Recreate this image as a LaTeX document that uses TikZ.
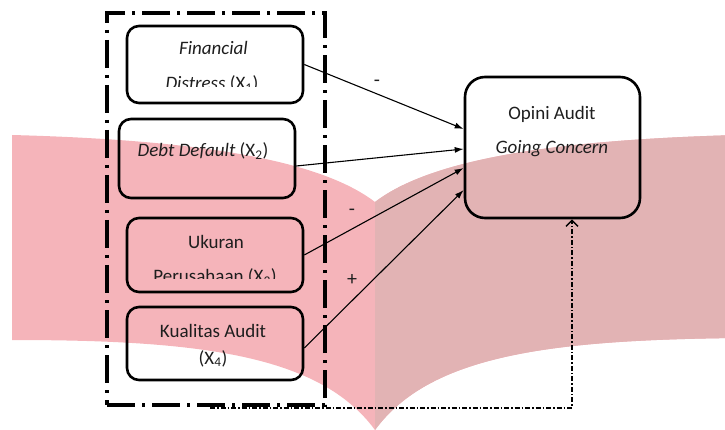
\documentclass[tikz,border=0pt]{standalone}
\usepackage{fontspec}
\setmainfont{Carlito}
\usetikzlibrary{arrows.meta}
\definecolor{wmL}{RGB}{245,180,186}
\definecolor{wmR}{RGB}{226,179,180}
\definecolor{ink}{RGB}{30,30,30}
\newcommand{\wmshape}{(12,135) .. controls (200,140) and (320,160) .. (375,202) .. controls (430,160) and (550,140) .. (738,135) -- (738,338) .. controls (550,340) and (430,355) .. (375,430) .. controls (320,355) and (200,340) .. (12,340) -- cycle}
\begin{document}
\begin{tikzpicture}[x=1pt,y=-1pt,
  box/.style={draw=black, line width=2.6pt, rounded corners=12pt, inner sep=0pt},
  framebox/.style={draw=black, line width=3.2pt, dash pattern=on 28pt off 7pt on 3pt off 7pt, inner sep=0pt},
  arr/.style={line width=1.1pt, -{Latex[length=9pt,width=6pt]}},
  fb/.style={draw=black, line width=1.8pt, dash pattern=on 5pt off 2pt on 1.5pt off 2pt, -{Straight Barb[length=6pt,width=12pt,line width=1.4pt]}},
  lbl/.style={font=\fontsize{19}{23}\selectfont, text=ink, anchor=base, inner sep=0pt},
  sgn/.style={font=\fontsize{20}{24}\selectfont, text=ink, inner sep=0pt}
]
\useasboundingbox (0,0) rectangle (725,430);
% watermark
\begin{scope}
  \clip (0,0) rectangle (725,430);
  \fill[wmL] \wmshape;
\end{scope}
\begin{scope}
  \clip (375,0) rectangle (725,430);
  \fill[wmR] \wmshape;
\end{scope}

% frame
\node[framebox, minimum width=218pt, minimum height=392pt] (grp) at (216,209) {};

% boxes
\node[box, minimum width=176pt, minimum height=77pt] (x1) at (215,64.5) {};
\node[box, minimum width=176pt, minimum height=79pt] (x2) at (207,158.5) {};
\node[box, minimum width=176pt, minimum height=74pt] (x3) at (215,255) {};
\node[box, minimum width=176pt, minimum height=73pt] (x4) at (215,343.5) {};
\node[box, rounded corners=20pt, minimum width=175pt, minimum height=141pt] (o) at (552.5,147.5) {};

% texts
\node[lbl] (t1a) at (213.5,55) {\itshape Financial};
\begin{scope}
  \clip (130,60) rectangle (300,87);
  \node[lbl] (t1b) at (212,90) {\itshape Distress \upshape(X\textsubscript{1})};
\end{scope}
\node[lbl] (t2) at (203,157) {\itshape Debt Default \upshape(X\textsubscript{2})};
\node[lbl] (t3a) at (216,248) {Ukuran};
\begin{scope}
  \clip (130,262) rectangle (300,278);
  \node[lbl] (t3b) at (215,283) {Perusahaan (X\textsubscript{3})};
\end{scope}
\node[lbl] (t4a) at (213,337) {Kualitas Audit};
\node[lbl] (t4b) at (213,364) {(X\textsubscript{4})};
\node[lbl] (toa) at (552,120) {Opini Audit};
\node[lbl] (tob) at (552,154) {\itshape Going Concern};

% arrows
\draw[arr] (x1.east) -- ([yshift=18.5pt]o.west);
\draw[arr] ([yshift=-7.5pt]x2.east) -- ([yshift=-1.5pt]o.west);
\draw[arr] (x3.east) -- ([yshift=-20.5pt]o.west);
\draw[arr] ([yshift=-4.5pt]x4.east) -- ([yshift=-42.5pt]o.west);

% signs
\node[sgn] (s1) at (377,83) {-};
\node[sgn] (s3) at (352,212) {-};
\node[sgn] (s4) at (352,280) {+};

% feedback connector
\draw[fb] ([xshift=-6pt,yshift=-1pt]grp.south) -| ([xshift=19.5pt]o.south);
\end{tikzpicture}
\end{document}
